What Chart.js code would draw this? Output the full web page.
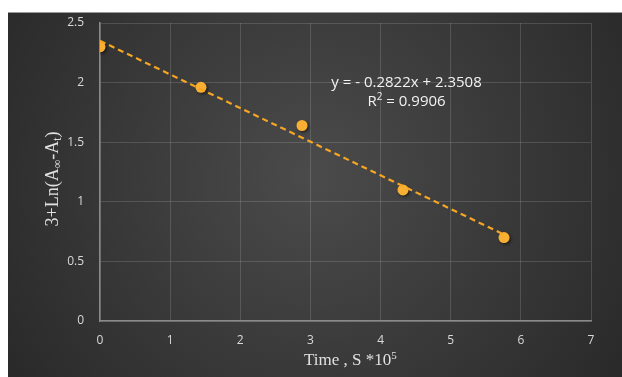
<!DOCTYPE html>
<html>
<head>
<meta charset="utf-8">
<script src="https://cdn.jsdelivr.net/npm/chart.js@4/dist/chart.umd.min.js"></script>
<style>
  html,body{margin:0;padding:0;background:#fff;overflow:hidden;}
  #wrap{position:absolute;left:8px;top:12px;width:614px;height:365px;}
  canvas{display:block;}
</style>
</head>
<body>
<div id="wrap"><canvas id="c" width="614" height="365"></canvas></div>
<script>
// ---- data ----
const timeValues = [0, 1.44, 2.88, 4.32, 5.76];
const lnValues   = [2.30, 1.96, 1.64, 1.10, 0.70];
const trendX = [0, 5.76];
const trendY = [2.3508, 0.7253];
const xTicks = [0, 1, 2, 3, 4, 5, 6, 7];
const yTicks = [0, 0.5, 1, 1.5, 2, 2.5];
const equationText = "y = - 0.2822x + 2.3508";
const r2Label = "R";
const r2Sup = "2";
const r2Value = " = 0.9906";

const bgPlugin = {
  id: 'bg',
  beforeDraw(chart) {
    const {ctx, width, height} = chart;
    const g = ctx.createRadialGradient(width*0.5, height*0.45, 10, width*0.5, height*0.45, width*0.62);
    g.addColorStop(0, '#4a4a4a');
    g.addColorStop(1, '#282828');
    ctx.save();
    ctx.fillStyle = g;
    ctx.fillRect(0, 0, width, height);
    ctx.fillStyle = '#9a9a9a';
    ctx.fillRect(0, 0, width, 1);
    ctx.restore();
  }
};

function drawRich(ctx, segs, x, y, align) {
  let total = 0;
  segs.forEach(s => { ctx.font = s.size + 'px "Liberation Serif", serif'; total += ctx.measureText(s.t).width; });
  let cx = align === 'center' ? x - total/2 : x;
  segs.forEach(s => {
    ctx.font = s.size + 'px "Liberation Serif", serif';
    ctx.fillText(s.t, cx, y + (s.dy||0));
    cx += ctx.measureText(s.t).width;
  });
}

const textPlugin = {
  id: 'texts',
  afterDraw(chart) {
    const {ctx} = chart;
    const xs = chart.scales.x, ys = chart.scales.y;
    const F = '"Open Sans", "Liberation Sans", sans-serif';
    ctx.save();
    ctx.fillStyle = '#f2f2f2';
    ctx.textBaseline = 'middle';
    ctx.font = '15px ' + F;
    ctx.textAlign = 'center';
    const ex = xs.getPixelForValue(4.37);
    ctx.fillText(equationText, ex, ys.getPixelForValue(2.0));
    ctx.textAlign = 'left';
    ctx.font = '15px ' + F;
    const wR = ctx.measureText(r2Label).width;
    const wV = ctx.measureText(r2Value).width;
    ctx.font = '10px ' + F;
    const wS = ctx.measureText(r2Sup).width;
    const tot = wR + wS + wV;
    let rx = ex - tot/2;
    const ry = ys.getPixelForValue(1.84);
    ctx.font = '15px ' + F;
    ctx.fillText(r2Label, rx, ry); rx += wR;
    ctx.font = '10px ' + F;
    ctx.fillText(r2Sup, rx, ry - 5); rx += wS;
    ctx.font = '15px ' + F;
    ctx.fillText(r2Value, rx, ry);
    // x title
    ctx.fillStyle = '#e0e0e0';
    ctx.textBaseline = 'alphabetic';
    drawRich(ctx, [
      {t: 'Time , S *10', size: 17},
      {t: '5', size: 11, dy: -6}
    ], xs.getPixelForValue(3.57), 353, 'center');
    // y title
    ctx.translate(44, (ys.top + ys.bottom)/2 + 7);
    ctx.rotate(-Math.PI/2);
    drawRich(ctx, [
      {t: '3+Ln(A', size: 18},
      {t: '\u221E', size: 12, dy: 3},
      {t: '-A', size: 18},
      {t: 't', size: 12, dy: 3},
      {t: ')', size: 18}
    ], 0, 6, 'center');
    ctx.restore();
  }
};

const shadowPlugin = {
  id: 'shadow',
  beforeDatasetDraw(chart, args) {
    if (args.index === 1) {
      chart.ctx.save();
      chart.ctx.shadowColor = 'rgba(0,0,0,0.5)';
      chart.ctx.shadowBlur = 3;
      chart.ctx.shadowOffsetX = 1.5;
      chart.ctx.shadowOffsetY = 1.5;
    }
  },
  afterDatasetDraw(chart, args) {
    if (args.index === 1) chart.ctx.restore();
  }
};

new Chart(document.getElementById('c'), {
  type: 'scatter',
  data: {
    datasets: [
      {
        type: 'line',
        data: trendX.map((x, i) => ({x, y: trendY[i]})),
        borderColor: '#f5a623',
        borderWidth: 2.2,
        borderDash: [6, 4],
        pointRadius: 0,
        fill: false
      },
      {
        data: timeValues.map((x, i) => ({x, y: lnValues[i]})),
        backgroundColor: '#f9b032',
        borderColor: '#f9b032',
        pointRadius: 5.5,
        borderWidth: 0
      }
    ]
  },
  options: {
    responsive: false,
    animation: false,
    events: [],
    layout: { padding: { left: 0, right: 31, top: 11, bottom: 0 } },
    plugins: { legend: { display: false }, tooltip: { enabled: false } },
    scales: {
      x: {
        type: 'linear', min: 0, max: 7,
        afterBuildTicks(s) { s.ticks = xTicks.map(v => ({value: v})); },
        afterFit(s) { s.height = 56; s.paddingLeft = 0; s.paddingRight = 0; },
        grid: { color: 'rgba(255,255,255,0.14)', lineWidth: 1, drawTicks: false },
        border: { color: '#8a8a8a', width: 1.5 },
        ticks: { color: '#d9d9d9', padding: 12, font: { family: '"Open Sans", "Liberation Sans", sans-serif', size: 12 } }
      },
      y: {
        type: 'linear', min: 0, max: 2.5,
        afterBuildTicks(s) { s.ticks = yTicks.map(v => ({value: v})); },
        afterFit(s) { s.width = 92; s.paddingTop = 0; s.paddingBottom = 0; },
        grid: { color: 'rgba(255,255,255,0.14)', lineWidth: 1, drawTicks: false },
        border: { color: '#8a8a8a', width: 1.5 },
        ticks: { color: '#d9d9d9', padding: 16, font: { family: '"Open Sans", "Liberation Sans", sans-serif', size: 12 },
          callback: v => String(v) }
      }
    }
  },
  plugins: [bgPlugin, shadowPlugin, textPlugin]
});
</script>
</body>
</html>
